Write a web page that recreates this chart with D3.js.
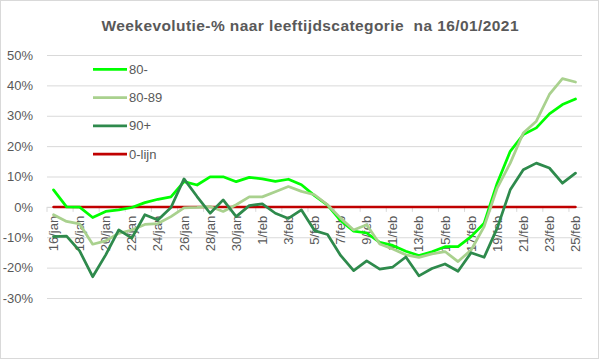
<!DOCTYPE html>
<html><head><meta charset="utf-8">
<script src="https://cdn.jsdelivr.net/npm/d3@7"></script>
<style>body{margin:0;background:#fff}</style>
</head><body>
<svg id="c" width="599" height="359"></svg>
<script>
const categories = ["16/jan","17/jan","18/jan","19/jan","20/jan","21/jan","22/jan","23/jan","24/jan","25/jan","26/jan","27/jan","28/jan","29/jan","30/jan","31/jan",
"1/feb","2/feb","3/feb","4/feb","5/feb","6/feb","7/feb","8/feb","9/feb","10/feb","11/feb","12/feb","13/feb","14/feb","15/feb","16/feb","17/feb","18/feb","19/feb","20/feb","21/feb","22/feb","23/feb","24/feb","25/feb"];
const series80min = [5.6,0.0,-0.1,-3.5,-1.5,-1.0,-0.2,1.4,2.5,3.3,8.3,7.2,9.9,9.9,8.3,9.7,9.2,8.4,9.1,7.3,3.7,0.6,-4.5,-8.0,-8.6,-11.7,-12.7,-14.6,-16.0,-14.8,-13.1,-13.1,-9.8,-5.4,7.8,18.3,23.8,26.0,30.6,33.7,35.5];
const series8089 = [-2.6,-4.8,-5.6,-12.3,-11.2,-8.7,-7.6,-5.8,-5.5,-3.2,-0.3,-0.2,0.1,-1.5,0.7,3.3,3.3,5.0,6.7,5.1,4.0,0.7,-3.7,-7.6,-5.9,-12.2,-13.9,-15.8,-16.6,-15.5,-14.7,-18.0,-14.2,-6.5,6.2,14.4,24.3,28.2,37.0,42.2,41.1];
const series90 = [-9.8,-9.6,-14.5,-23.0,-15.8,-7.6,-10.3,-2.6,-4.3,-0.2,9.2,3.4,-2.1,2.3,-3.2,0.4,1.0,-2.1,-3.8,-1.0,-7.8,-9.1,-16.0,-21.0,-17.8,-20.5,-19.8,-16.5,-22.7,-20.3,-18.8,-21.2,-15.1,-16.6,-7.0,5.6,12.2,14.4,12.8,7.8,11.1];
const zeroLine = categories.map(() => 0);
const yTicks = [50,40,30,20,10,0,-10,-20,-30];
const seriesNames = ["80-","80-89","90+","0-lijn"];
const seriesColors = ["#00ff00","#a9d18e","#2e8a4c","#c00000"];
const title = "Weekevolutie-% naar leeftijdscategorie  na 16/01/2021";

const font = "'Liberation Sans', Arial, sans-serif";
const txt = "#595959";
const svg = d3.select("#c");
svg.append("rect").attr("x",0.5).attr("y",0.5).attr("width",598).attr("height",358)
  .attr("fill","#fff").attr("stroke","#d9d9d9");

const pLeft = 47, pRight = 582, pTop = 55, pBottom = 298;
const x = d3.scaleBand().domain(categories).range([pLeft, pRight]);
const y = d3.scaleLinear().domain([-30, 50]).range([pBottom, pTop]);

// title
svg.append("text").attr("x", 310).attr("y", 31).attr("text-anchor","middle")
  .attr("font-family", font).attr("font-weight","bold").attr("font-size", 15.5)
  .attr("fill", txt).style("white-space","pre")
  .attr("textLength", 417).attr("lengthAdjust","spacing").text(title);

// y axis gridlines
const ya = svg.append("g").attr("transform", `translate(${pLeft},0)`)
  .call(d3.axisLeft(y).tickValues(yTicks).tickSize(-(pRight-pLeft)).tickPadding(14).tickFormat(d => d + "%"));
ya.select(".domain").remove();
ya.selectAll(".tick line").attr("stroke","#d9d9d9");
ya.selectAll(".tick text").attr("font-family", font).attr("font-size", 13).attr("fill", txt);

// x axis
const xa = svg.append("g").attr("transform", `translate(0,${y(0)})`)
  .call(d3.axisBottom(x).tickValues(categories.filter((d,i) => i % 2 === 0)).tickSize(0).tickPadding(0));
xa.select(".domain").attr("stroke","#d9d9d9");
xa.selectAll(".tick text")
  .attr("font-family", font).attr("font-size", 13).attr("fill", txt)
  .attr("text-anchor","end").attr("transform","rotate(-90)")
  .attr("x", -9).attr("y", 0).attr("dy", "0.35em");
// boundary tick marks
const bticks = categories.filter((d,i) => i % 2 === 0).map(d => x(d));
svg.append("g").selectAll("line").data(bticks).join("line")
  .attr("x1", d => d).attr("x2", d => d).attr("y1", y(0)).attr("y2", y(0) + 5)
  .attr("stroke", "#d9d9d9");

// lines
const allSeries = [series80min, series8089, series90, zeroLine];
const line = d3.line().x((d,i) => x(categories[i]) + x.bandwidth()/2).y(d => y(d));
const drawOrder = [3, 0, 1, 2];
drawOrder.forEach(k => {
  svg.append("path").datum(allSeries[k]).attr("d", line)
    .attr("fill","none").attr("stroke", seriesColors[k])
    .attr("stroke-width", k === 3 ? 2.5 : 2.75).attr("stroke-linejoin","round").attr("stroke-linecap","round");
});

// legend
const lg = svg.append("g");
seriesNames.forEach((n, i) => {
  const ly = 69.3 + i * 28.3;
  lg.append("line").attr("x1", 93).attr("x2", 127).attr("y1", ly).attr("y2", ly)
    .attr("stroke", seriesColors[i]).attr("stroke-width", 2.75);
  lg.append("text").attr("x", 129).attr("y", ly).attr("dy","0.35em")
    .attr("font-family", font).attr("font-size", 13).attr("fill", txt).text(n);
});
</script>
</body></html>
